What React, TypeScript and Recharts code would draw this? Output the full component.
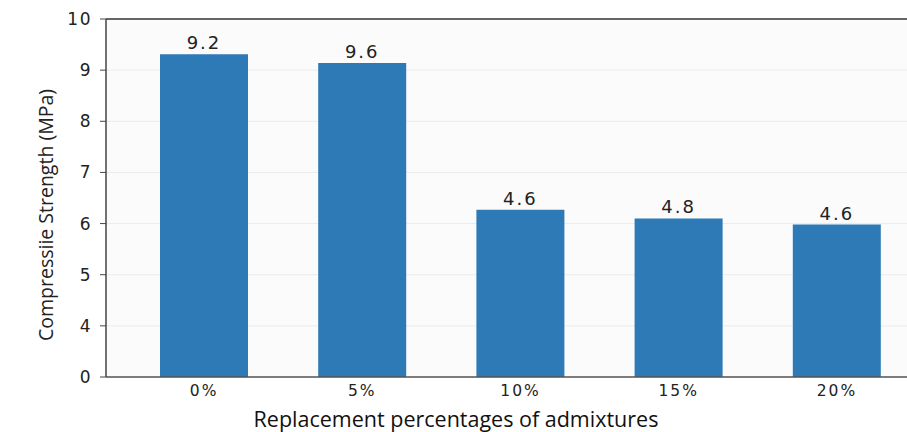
import React from 'react';
import {
  BarChart,
  Bar,
  XAxis,
  YAxis,
  CartesianGrid,
  ReferenceLine,
  LabelList,
  Label,
} from 'recharts';

// replacement percentage of admixtures
const categories = ['0%', '5%', '10%', '15%', '20%'];
// bar heights as drawn on the (broken) axis
const strength = [9.31, 9.14, 6.27, 6.1, 5.98];
// value labels printed above the bars
const barLabels = ['9.2', '9.6', '4.6', '4.8', '4.6'];
// axis is broken: bottom tick reads 0, then 4..10
const yTicks = [3, 4, 5, 6, 7, 8, 9, 10];
const yTickLabels = ['0', '4', '5', '6', '7', '8', '9', '10'];

const chartData = categories.map((c, i) => ({
  name: c,
  value: strength[i],
  label: barLabels[i],
}));

const tickFont = { fontSize: 17, fill: '#222', fontFamily: 'DejaVu Sans', letterSpacing: 1.5 };

export default function App() {
  return (
    <div style={{ position: 'absolute', left: 0, top: 0, width: 907, height: 432, overflow: 'hidden', background: '#fff' }}>
      <BarChart
        width={920}
        height={432}
        data={chartData}
        margin={{ top: 19, right: 4, bottom: 25, left: 0 }}
      >
        <CartesianGrid vertical={false} stroke="#ebebeb" fill="#fbfbfb" />
        <XAxis
          dataKey="name"
          padding={{ left: 19, right: 0 }}
          tickLine={false}
          axisLine={{ stroke: '#555', strokeWidth: 1.5 }}
          tick={{ fontSize: 15.5, fill: '#222', fontFamily: 'DejaVu Sans', letterSpacing: 2 }}
          tickMargin={2}
          height={30}
        >
          <Label
            content={() => (
              <text
                x={456}
                y={427}
                textAnchor="middle"
                fontFamily="Open Sans"
                fontSize={21.5}
                fill="#111"
              >
                Replacement percentages of admixtures
              </text>
            )}
          />
        </XAxis>
        <YAxis
          width={106}
          domain={[3, 10]}
          ticks={yTicks}
          interval={0}
          tickFormatter={(v) => yTickLabels[yTicks.indexOf(v)]}
          tick={tickFont}
          tickSize={6}
          tickMargin={8}
          tickLine={{ stroke: '#444' }}
          axisLine={{ stroke: '#444', strokeWidth: 1.5 }}
        >
          <Label
            content={() => (
              <text
                x={53}
                y={215}
                transform="rotate(-90 53 215)"
                textAnchor="middle"
                fontFamily="Open Sans"
                fontSize={19.5}
                fill="#222"
              >
                Compressiie Strength (MPa)
              </text>
            )}
          />
        </YAxis>
        <ReferenceLine y={10} stroke="#666" strokeWidth={2} />
        <Bar dataKey="value" fill="#2d7ab6" barSize={88} isAnimationActive={false}>
          <LabelList
            dataKey="label"
            position="top"
            offset={5}
            style={{ fontSize: 18, fill: '#222', fontFamily: 'DejaVu Sans', letterSpacing: 2 }}
          />
        </Bar>
      </BarChart>
    </div>
  );
}
